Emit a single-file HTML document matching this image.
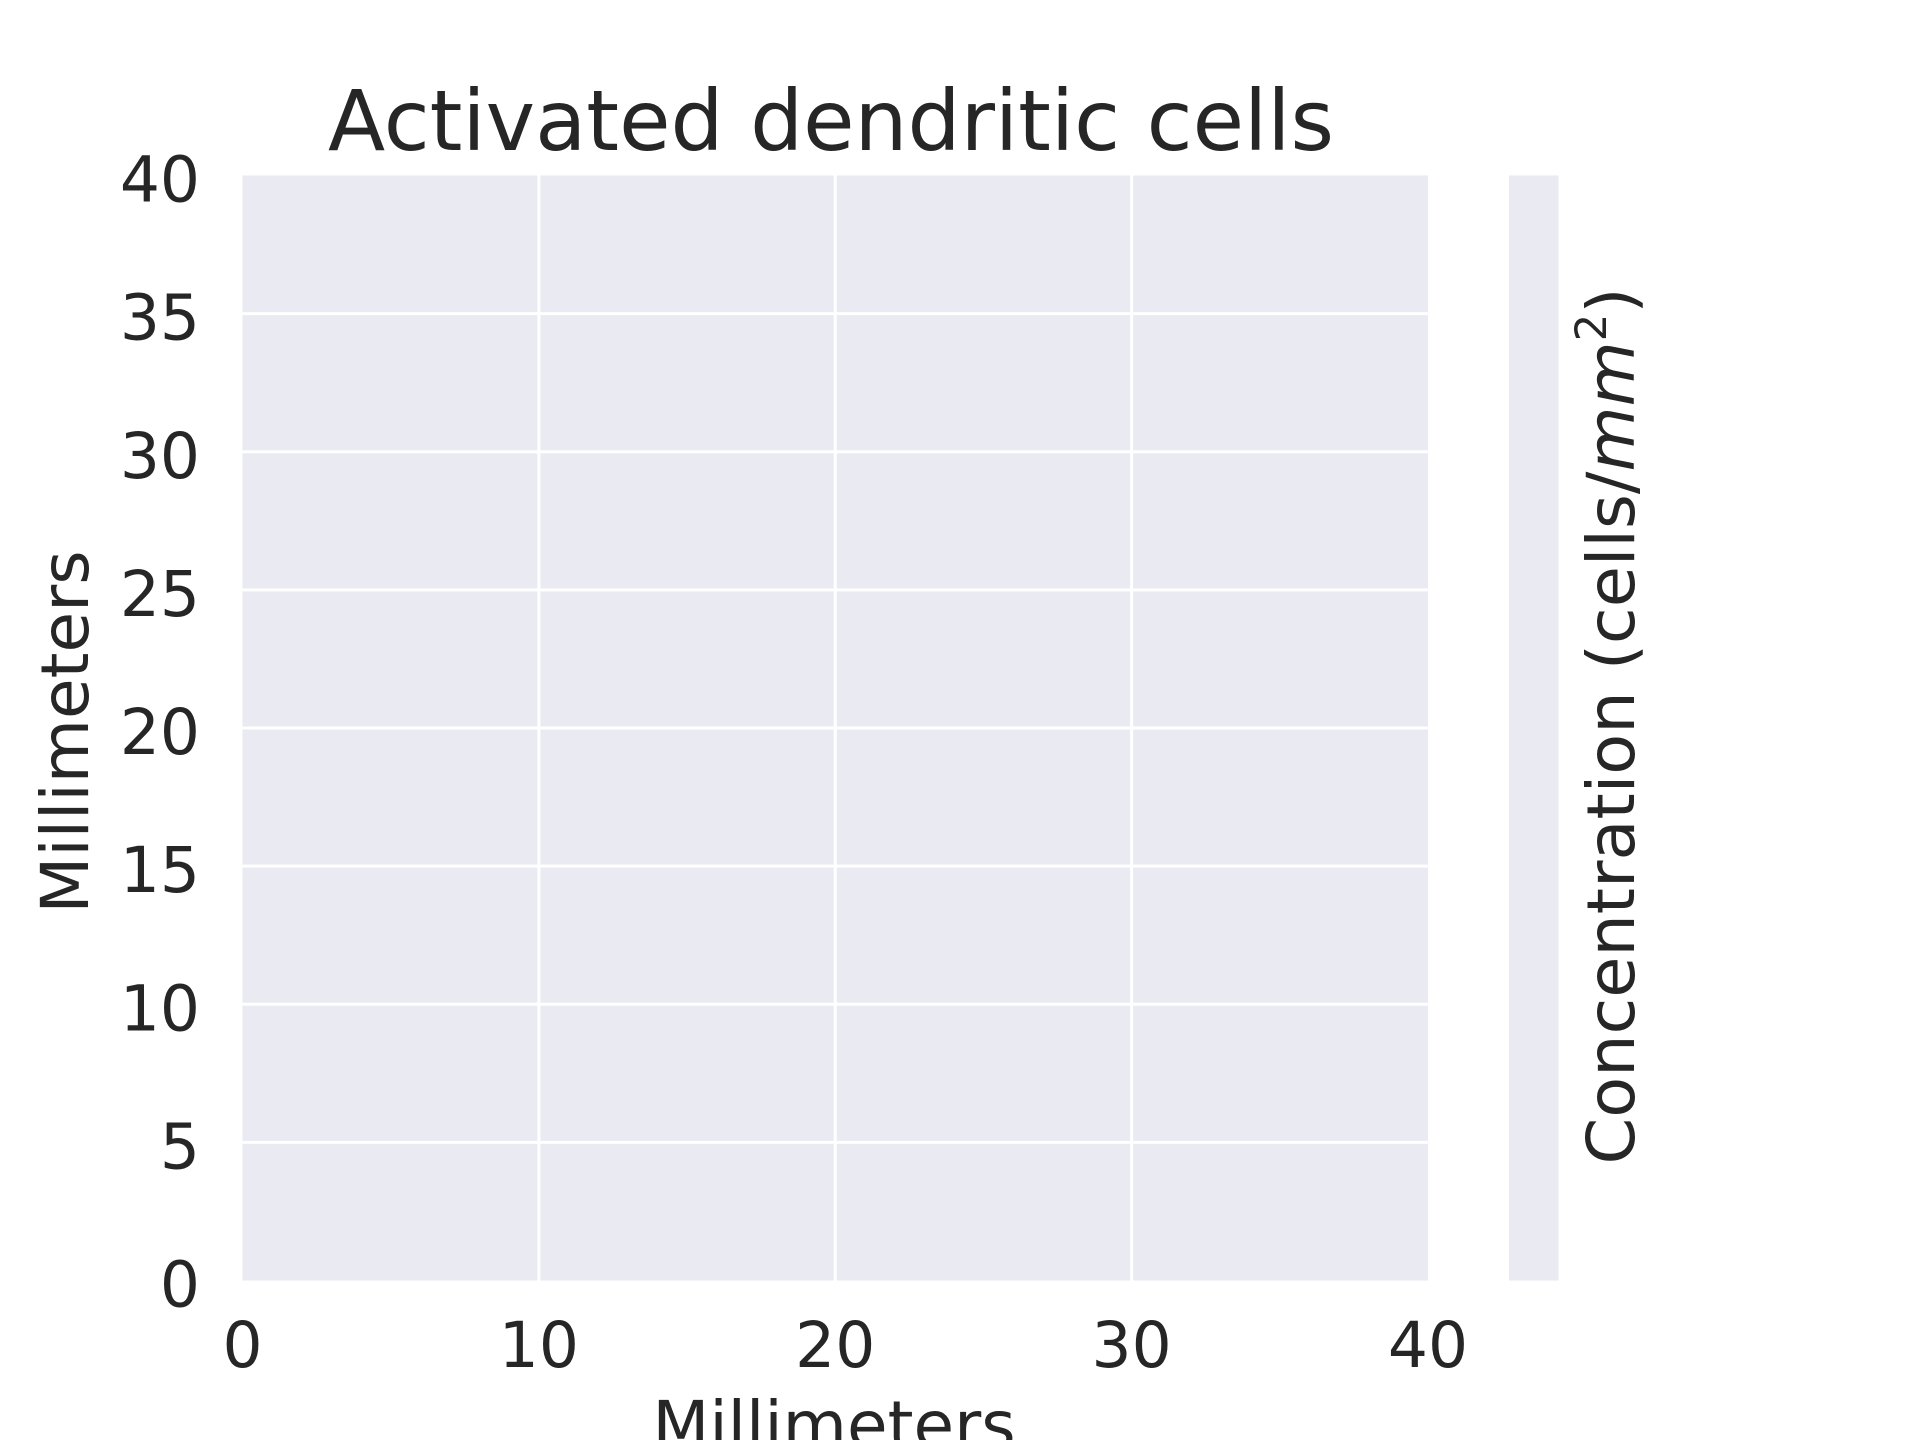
<!DOCTYPE html>
<html><head><meta charset="utf-8"><style>body{margin:0;background:#fff}svg{display:block}text{font-family:"DejaVu Sans","Liberation Sans",sans-serif;fill:#262626}</style></head>
<body>
<svg id="chart" width="1920" height="1440" viewBox="0 0 1920 1440">
<rect x="242.5" y="175.5" width="1185.5" height="1105" fill="#EAEAF2"/>
<g id="grid"></g>
<g id="ticks"></g>
<rect x="1509" y="175.5" width="49.5" height="1105" fill="#EAEAF2"/>
<text x="831" y="150" font-size="84" text-anchor="middle" textLength="1006" lengthAdjust="spacingAndGlyphs">Activated dendritic cells</text>
<text x="834" y="1448" font-size="66" text-anchor="middle">Millimeters</text>
<text transform="translate(88,732) rotate(-90)" font-size="66" text-anchor="middle">Millimeters</text>
<text transform="translate(1634,726) rotate(-90)" font-size="66" text-anchor="middle" textLength="877" lengthAdjust="spacingAndGlyphs">Concentration (cells/<tspan font-style="italic">mm</tspan><tspan font-size="43" dy="-28">2</tspan><tspan dy="28">)</tspan></text>
</svg>
<script>
const xTicks=[0,10,20,30,40];
const yTicks=[0,5,10,15,20,25,30,35,40];
const xDomain=[0,40], yDomain=[0,40];
const L=242.5,R=1428,T=175.5,B=1280.5;
const xs=v=>L+(v-xDomain[0])/(xDomain[1]-xDomain[0])*(R-L);
const ys=v=>B-(v-yDomain[0])/(yDomain[1]-yDomain[0])*(B-T);
const NS='http://www.w3.org/2000/svg';
const grid=document.getElementById('grid'),ticks=document.getElementById('ticks');
xTicks.forEach(v=>{
 if(v>xDomain[0]&&v<xDomain[1]){const l=document.createElementNS(NS,'line');
 
 
 l.setAttribute('x1',xs(v));l.setAttribute('x2',xs(v));l.setAttribute('y1',T);l.setAttribute('y2',B);l.setAttribute('stroke','#fff');l.setAttribute('stroke-width','3');grid.appendChild(l);}
 const t=document.createElementNS(NS,'text');
 
 
 t.setAttribute('x',xs(v));t.setAttribute('y',1367);t.setAttribute('font-size','63');t.setAttribute('text-anchor','middle');t.textContent=v;ticks.appendChild(t);
});
yTicks.forEach(v=>{
 if(v>yDomain[0]&&v<yDomain[1]){const l=document.createElementNS(NS,'line');
 
 
 l.setAttribute('x1',L);l.setAttribute('x2',R);l.setAttribute('y1',ys(v));l.setAttribute('y2',ys(v));l.setAttribute('stroke','#fff');l.setAttribute('stroke-width','3');grid.appendChild(l);}
 const t=document.createElementNS(NS,'text');
 
 
 t.setAttribute('x',200);t.setAttribute('y',ys(v)+26);t.setAttribute('font-size','63');t.setAttribute('text-anchor','end');t.textContent=v;ticks.appendChild(t);
});
</script>
</body></html>
